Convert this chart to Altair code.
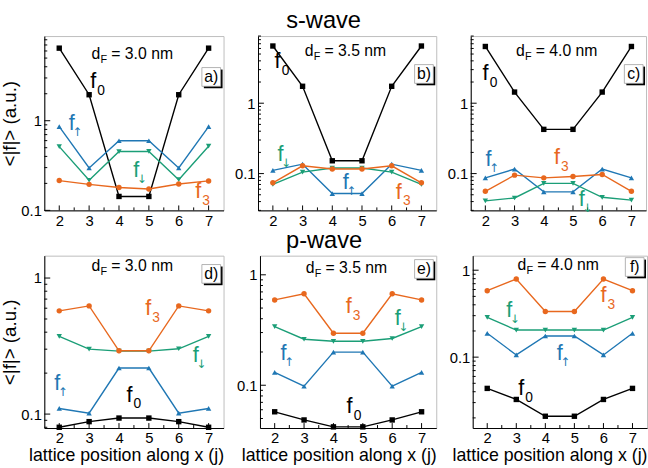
import altair as alt
import pandas as pd

X_POS = [2, 3, 4, 5, 6, 7]
SERIES = ["f0", "fup", "fdn", "f3"]
COLORS = ["#000000", "#1f77b4", "#1b9e77", "#e8681e"]
SHAPES = ["square", "triangle-up", "triangle-down", "circle"]

# s-wave values
a_f0 = [6.45, 1.95, 0.143, 0.143, 1.95, 6.45]
a_fup = [0.86, 0.297, 0.598, 0.598, 0.297, 0.86]
a_fdn = [0.514, 0.217, 0.453, 0.455, 0.22, 0.52]
a_f3 = [0.215, 0.195, 0.180, 0.173, 0.197, 0.213]

b_f0 = [6.5, 1.74, 0.152, 0.152, 1.74, 6.5]
b_fup = [0.111, 0.136, 0.052, 0.052, 0.136, 0.111]
b_fdn = [0.070, 0.105, 0.12, 0.12, 0.105, 0.070]
b_f3 = [0.074, 0.129, 0.116, 0.116, 0.129, 0.074]

c_f0 = [6.4, 1.44, 0.425, 0.425, 1.44, 6.4]
c_fup = [0.087, 0.116, 0.055, 0.055, 0.116, 0.087]
c_fdn = [0.041, 0.045, 0.0726, 0.0726, 0.046, 0.042]
c_f3 = [0.056, 0.095, 0.087, 0.091, 0.097, 0.056]

# p-wave values
d_f0 = [0.080, 0.088, 0.0935, 0.0935, 0.088, 0.080]
d_fup = [0.110, 0.1016, 0.218, 0.218, 0.1016, 0.110]
d_fdn = [0.373, 0.300, 0.290, 0.290, 0.302, 0.373]
d_f3 = [0.574, 0.624, 0.292, 0.292, 0.624, 0.574]

e_f0 = [0.0575, 0.0485, 0.042, 0.042, 0.0485, 0.0575]
e_fup = [0.131, 0.098, 0.1995, 0.1995, 0.098, 0.131]
e_fdn = [0.340, 0.261, 0.250, 0.250, 0.265, 0.340]
e_f3 = [0.592, 0.673, 0.296, 0.296, 0.673, 0.592]

f_f0 = [0.0437, 0.0326, 0.0209, 0.0209, 0.0326, 0.0437]
f_fup = [0.188, 0.106, 0.175, 0.175, 0.106, 0.188]
f_fdn = [0.287, 0.205, 0.205, 0.205, 0.205, 0.287]
f_f3 = [0.581, 0.792, 0.335, 0.335, 0.792, 0.581]

# series label anchors (series, x, y, subscript)
a_labels = [("f0", 3.14, 2.75, "0"), ("fup", 2.42, 0.95, "↑"), ("fdn", 4.58, 0.282, "↓"), ("f3", 6.65, 0.162, "3")]
b_labels = [("f0", 2.16, 4.0, "0"), ("fdn", 2.26, 0.188, "↓"), ("fup", 4.45, 0.0763, "↑"), ("f3", 6.24, 0.0553, "3")]
c_labels = [("f0", 2.01, 2.64, "0"), ("fup", 2.11, 0.160, "↑"), ("f3", 4.45, 0.171, "3"), ("fdn", 5.30, 0.0428, "↓")]
d_labels = [("f3", 4.98, 0.602, "3"), ("fdn", 6.57, 0.271, "↓"), ("fup", 1.93, 0.170, "↑"), ("f0", 4.35, 0.139, "0")]
e_labels = [("f3", 4.52, 0.521, "3"), ("fdn", 6.19, 0.408, "↓"), ("fup", 2.30, 0.195, "↑"), ("f0", 4.55, 0.0643, "0")]
f_labels = [("f3", 6.0, 0.516, "3"), ("fdn", 2.76, 0.350, "↓"), ("fup", 4.5, 0.112, "↑"), ("f0", 3.17, 0.0442, "0")]

PANELS = [
    dict(letter="a)", dF="3.0", vals=[a_f0, a_fup, a_fdn, a_f3], ydom=[0.1, 8.8], w=182, h=177,
         box=32, dFy=18, ytitle=True, xtitle=False, labels=a_labels),
    dict(letter="b)", dF="3.5", vals=[b_f0, b_fup, b_fdn, b_f3], ydom=[0.03, 9.0], w=181, h=177,
         box=29, dFy=15, ytitle=False, xtitle=False, labels=b_labels),
    dict(letter="c)", dF="4.0", vals=[c_f0, c_fup, c_fdn, c_f3], ydom=[0.03, 9.0], w=178, h=177,
         box=29, dFy=15, ytitle=False, xtitle=False, labels=c_labels),
    dict(letter="d)", dF="3.0", vals=[d_f0, d_fup, d_fdn, d_f3], ydom=[0.079, 1.46], w=182, h=175,
         box=9, dFy=11, ytitle=True, xtitle=True, labels=d_labels),
    dict(letter="e)", dF="3.5", vals=[e_f0, e_fup, e_fdn, e_f3], ydom=[0.041, 1.49], w=179, h=175,
         box=4, dFy=13, ytitle=False, xtitle=True, labels=e_labels),
    dict(letter="f)", dF="4.0", vals=[f_f0, f_fup, f_fdn, f_f3], ydom=[0.0153, 1.47], w=177, h=175,
         box=2, dFy=10, ytitle=False, xtitle=True, labels=f_labels),
]

X_MINOR = [2.5, 3.5, 4.5, 5.5, 6.5]
Y_MAJOR_ALL = [0.01, 0.1, 1.0, 10.0]


def make_panel(p):
    w, h = p["w"], p["h"]
    lo, hi = p["ydom"]
    rows = [{"x": xv, "v": val, "s": s}
            for s, arr in zip(SERIES, p["vals"]) for xv, val in zip(X_POS, arr)]
    df = pd.DataFrame(rows)
    xs = alt.Scale(domain=[1.5, 7.5], nice=False, zero=False)
    ys = alt.Scale(type="log", domain=p["ydom"], nice=False)
    cs = alt.Scale(domain=SERIES, range=COLORS)
    ss = alt.Scale(domain=SERIES, range=SHAPES)

    ymaj = [v for v in Y_MAJOR_ALL if lo <= v <= hi]
    xaxis = alt.Axis(values=X_POS, ticks=False, grid=False, labelFontSize=15, labelPadding=3,
                     titleFontSize=18, titleFontWeight="normal", titlePadding=1, titleAnchor="end")
    yaxis = alt.Axis(values=ymaj, format="~g", ticks=False,
                     grid=False, labelFontSize=15, labelPadding=3,
                     titleFontSize=19, titleFontWeight="normal", titlePadding=1)
    xtitle = "lattice position along x (j)" if p["xtitle"] else None
    ytitle = "<|f|> (a.u.)" if p["ytitle"] else None
    xenc = alt.X("x:Q", scale=xs, axis=xaxis, title=xtitle)
    yenc = alt.Y("v:Q", scale=ys, axis=yaxis, title=ytitle)
    color = alt.Color("s:N", scale=cs, legend=None)

    base = alt.Chart(df).encode(x=xenc, y=yenc, color=color)
    lines = base.mark_line(strokeWidth=1.4)
    pts = base.mark_point(filled=True, opacity=1, size=30).encode(
        shape=alt.Shape("s:N", scale=ss, legend=None))

    # inward ticks
    ymin = [m * 10.0 ** k for k in (-2, -1, 0) for m in range(2, 10) if lo <= m * 10.0 ** k <= hi]
    ticks_ymaj = alt.Chart(pd.DataFrame({"v": ymaj})).mark_rule(color="black").encode(
        y=yenc, x=alt.value(0), x2=alt.value(6))
    ticks_ymin = alt.Chart(pd.DataFrame({"v": ymin})).mark_rule(color="black").encode(
        y=yenc, x=alt.value(0), x2=alt.value(3))
    ticks_xmaj = alt.Chart(pd.DataFrame({"x": X_POS})).mark_rule(color="black").encode(
        x=xenc, y=alt.value(h), y2=alt.value(h - 5))
    ticks_xmin = alt.Chart(pd.DataFrame({"x": X_MINOR})).mark_rule(color="black").encode(
        x=xenc, y=alt.value(h), y2=alt.value(h - 3))

    # series labels
    lab = pd.DataFrame([{"x": x, "v": y, "s": s, "sub": sub} for (s, x, y, sub) in p["labels"]])
    fbase = alt.Chart(lab).mark_text(text="f", fontSize=22, align="center", baseline="middle").encode(
        x=xenc, y=yenc, color=color)
    fsubd = alt.Chart(lab).mark_text(fontSize=14, align="center", baseline="middle", dx=8, dy=10).encode(
        x=xenc, y=yenc, color=color, text="sub:N").transform_filter(
        alt.FieldOneOfPredicate(field="sub", oneOf=["0", "3"]))
    fsuba = alt.Chart(lab).mark_text(fontSize=12, font="DejaVu Sans", align="center", baseline="middle",
                                     dx=6, dy=9).encode(
        x=xenc, y=yenc, color=color, text="sub:N").transform_filter(
        alt.FieldOneOfPredicate(field="sub", oneOf=["↑", "↓"]))

    # d_F annotation
    one = pd.DataFrame({"t": [0]})
    cx = w / 2 + 1
    x0 = cx - 44
    yc = p["dFy"]
    d1 = alt.Chart(one).mark_text(text="d", fontSize=16, align="left", baseline="middle").encode(
        x=alt.value(x0), y=alt.value(yc))
    d2 = alt.Chart(one).mark_text(text="F", fontSize=11, align="left", baseline="middle").encode(
        x=alt.value(x0 + 9), y=alt.value(yc + 6))
    d3 = alt.Chart(one).mark_text(text="= " + p["dF"] + " nm", fontSize=16, align="left",
                                  baseline="middle").encode(x=alt.value(x0 + 20), y=alt.value(yc))

    # panel letter box
    bt = p["box"]
    shadow = alt.Chart(one).mark_rect(color="black").encode(
        x=alt.value(w - 20), x2=alt.value(w - 1), y=alt.value(bt + 2), y2=alt.value(bt + 21))
    box = alt.Chart(one).mark_rect(fill="white", stroke="#a0a0a0", strokeWidth=0.8).encode(
        x=alt.value(w - 22), x2=alt.value(w - 3), y=alt.value(bt), y2=alt.value(bt + 19))
    letter = alt.Chart(one).mark_text(text=p["letter"], fontSize=16, align="center",
                                      baseline="middle").encode(x=alt.value(w - 12.5), y=alt.value(bt + 10))

    return alt.layer(lines, pts, ticks_ymaj, ticks_ymin, ticks_xmaj, ticks_xmin,
                     fbase, fsubd, fsuba, d1, d2, d3, shadow, box, letter).properties(width=w, height=h)


row1 = alt.hconcat(make_panel(PANELS[0]), make_panel(PANELS[1]), make_panel(PANELS[2]), spacing=9).properties(
    title=alt.TitleParams("s-wave", fontSize=24, fontWeight="normal", anchor="middle", offset=2))
row2 = alt.hconcat(make_panel(PANELS[3]), make_panel(PANELS[4]), make_panel(PANELS[5]), spacing=11).properties(
    title=alt.TitleParams("p-wave", fontSize=24, fontWeight="normal", anchor="middle", offset=2))

chart = alt.vconcat(row1, row2, spacing=0).properties(
    padding={"left": 0, "top": 6, "right": 0, "bottom": 0}
).configure(font="Liberation Sans").configure_view(stroke="#bdbdbd", strokeWidth=1).configure_axis(
    labelColor="black", titleColor="black", domainColor="black", domainWidth=1
).configure_title(color="black")

chart.save("out.html", embed_options={"renderer": "svg", "actions": False})
